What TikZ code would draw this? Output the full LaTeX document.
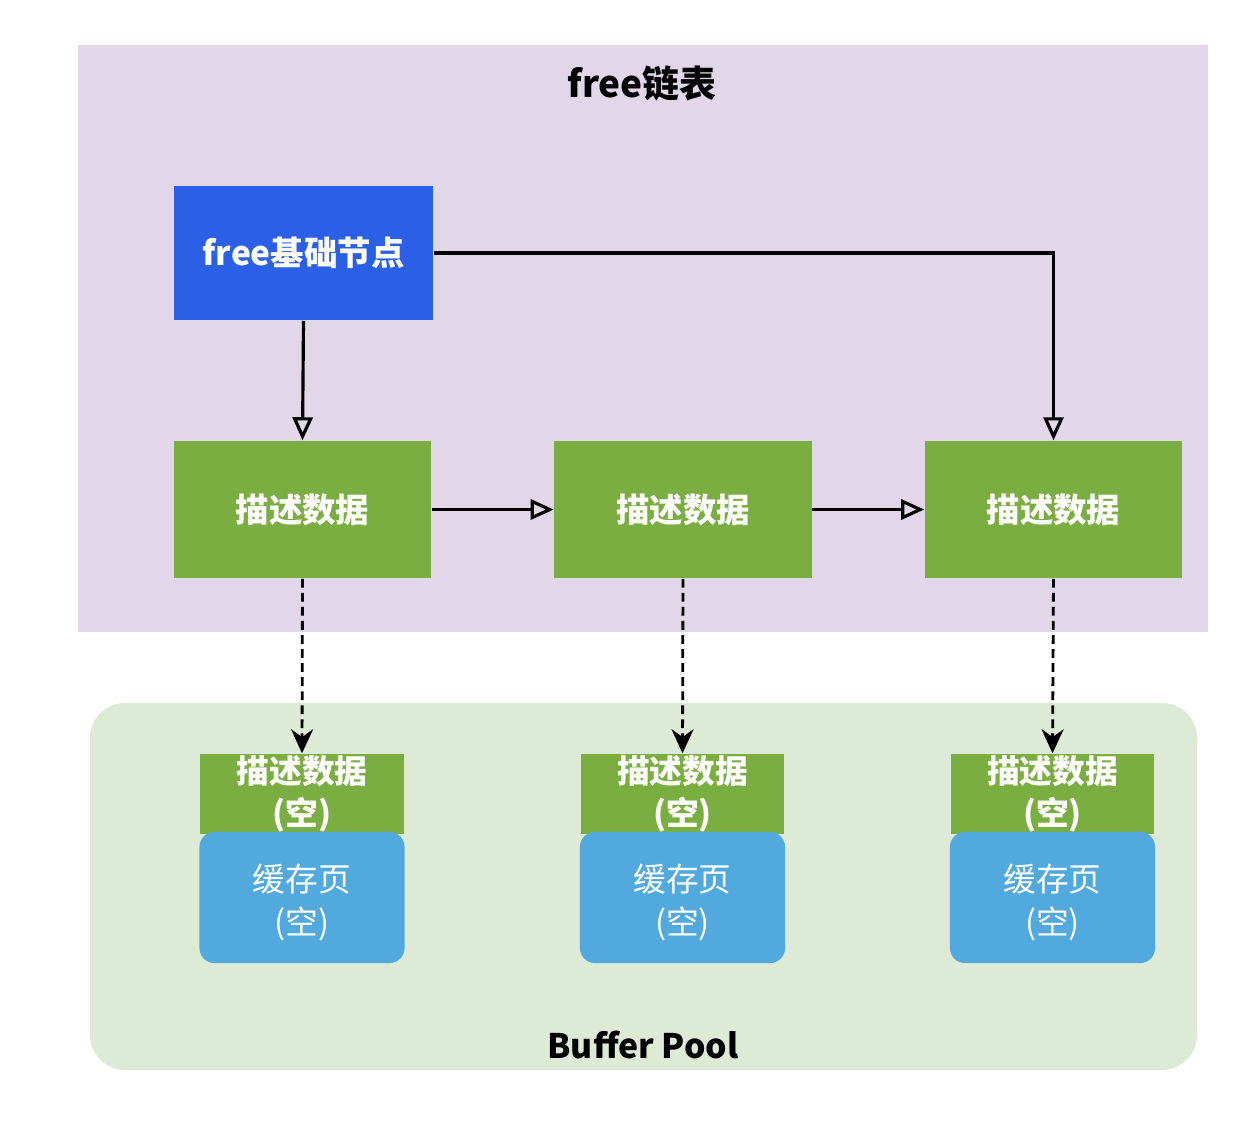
\documentclass[tikz,border=0pt]{standalone}
\usepackage{fontspec}
\setmainfont{Noto Sans CJK SC}
\usepackage{tikz}
\usetikzlibrary{arrows.meta}
\usetikzlibrary{positioning}
\definecolor{lilac}{HTML}{E1D7E8}
\definecolor{leaf}{HTML}{7BAE41}
\definecolor{royal}{HTML}{2B5FE6}
\definecolor{sky}{HTML}{52A9DE}
\definecolor{mint}{HTML}{DDEAD6}
\tikzset{
  headbox/.style={fill=royal, minimum width=2.59cm, minimum height=1.34cm, text=white, font=\bfseries\fontsize{9.5}{12}\selectfont},
  descbox/.style={fill=leaf, minimum width=2.57cm, minimum height=1.37cm, text=white, font=\bfseries\fontsize{9.5}{11}\selectfont},
  emptydesc/.style={fill=leaf, minimum width=2.03cm, minimum height=0.8cm, inner sep=0pt, text=white, align=center, font=\bfseries\fontsize{9.3}{12}\selectfont},
  pagebox/.style={fill=sky, rounded corners=0.15cm, minimum width=2.05cm, minimum height=1.31cm, inner sep=0pt},
  pagetext/.style={text=white, align=center, inner sep=0pt, font=\fontsize{9.3}{12}\selectfont},
  link/.style={line width=0.9pt, -{Triangle[open, length=2.3mm, width=2mm]}},
  slot/.style={line width=0.8pt, dash pattern=on 2.5pt off 1.5pt, -{Stealth[length=2.4mm, width=2.2mm]}}
}

\begin{document}
\begin{tikzpicture}[x=0.01cm, y=-0.01cm]
        \useasboundingbox (0, 0) rectangle (1254, 1132);
        % the two regions
        \fill[lilac] (78, 45) rectangle (1208, 632);
        \fill[mint, rounded corners=0.35cm] (90, 703) rectangle (1197, 1070);
        \node[font=\bfseries\fontsize{10.5}{12}\selectfont] (title) at (642, 83) {free链表};
        \node[font=\bfseries\fontsize{9.6}{12}\selectfont] (pool) at (643, 1045) {Buffer Pool};
        % free list
        \node[headbox] (head) at (303.5, 253) {free基础节点};
        \node[descbox] (d1) at (302.5, 509.5) {描述数据};
        \node[descbox] (d2) at (683, 509.5) {描述数据};
        \node[descbox] (d3) at (1053.5, 509.5) {描述数据};
        % buffer pool pages
        \foreach \n/\x in {1/302, 2/682.5, 3/1052.5} {
            \node[emptydesc] (s\n) at (\x, 794) {描述数据\\(空)};
            \node[pagebox] (p\n) at (\x, 897.5) {};
            \node[pagetext] (t\n) at ([yshift=-0.05cm]p\n.center) {缓存页\\(空)};
        }
        \draw[link] (head.south) -- (d1.north);
        \draw[link] (head.east) -| (d3.north);
        \draw[link] (d1) -- (d2);
        \draw[link] (d2) -- (d3);
        \foreach \n in {1, 2, 3} \draw[slot] (d\n.south) -- (s\n.north);
    \end{tikzpicture}
\end{document}
